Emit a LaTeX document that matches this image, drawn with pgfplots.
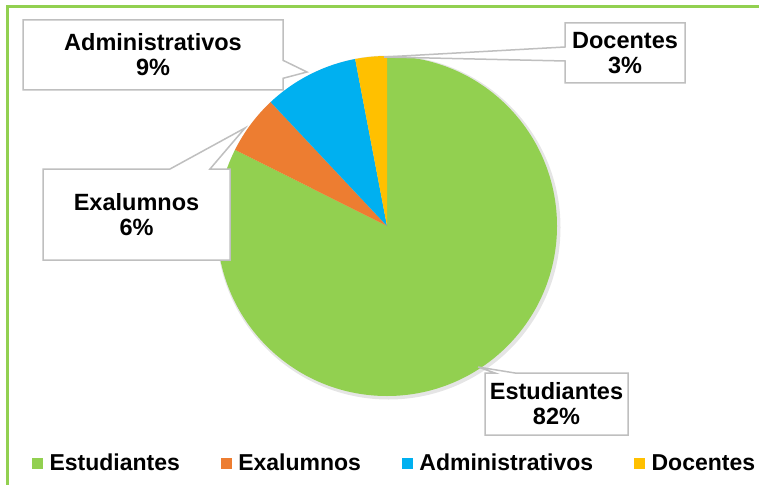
\documentclass[border=0pt]{standalone}
\usepackage{pgfplots}
\pgfplotsset{compat=1.18}
\usepackage{pgfplotstable}
\usetikzlibrary{shapes.callouts}
\usepackage{fontspec}
\setmainfont{Liberation Sans}
\definecolor{slice0}{HTML}{92D050}
\definecolor{slice1}{HTML}{ED7D31}
\definecolor{slice2}{HTML}{00B0F0}
\definecolor{slice3}{HTML}{FFC000}
\definecolor{frame}{HTML}{92D050}
\definecolor{cbord}{HTML}{BFBFBF}

\pgfplotstableread{
name value
Estudiantes 82.4
Exalumnos 5.6
Administrativos 9.0
Docentes 3.0
}\piedata

\tikzset{lbl/.style={rectangle callout, draw=cbord, line width=1.5bp, fill=white,
  align=center, inner sep=0pt, font=\bfseries\fontsize{23.5bp}{25bp}\selectfont}}

\begin{document}
\begin{tikzpicture}
\begin{axis}[
  width=759bp, height=485bp, scale only axis,
  xmin=0, xmax=759, ymin=0, ymax=485, y dir=reverse,
  hide axis, clip=false,
  legend columns=4,
  legend style={draw=none, fill=none, at={(axis cs:29,463)}, anchor=west,
    font=\bfseries\fontsize{23bp}{24bp}\selectfont,
    /tikz/every odd column/.append style={column sep=5bp},
    /tikz/every even column/.append style={column sep=39bp},
    legend cell align=left},
]
% frame
\draw[frame, line width=3bp] (axis cs:7,485) -- (axis cs:7,7) -- (axis cs:759,7);
% soft shadow
\fill[black!10] (axis cs:388.5,227.5) circle[radius=172bp];
% pie
\def\cum{0}
\pgfplotsforeachungrouped \i in {0,...,3}{%
  \pgfplotstablegetelem{\i}{value}\of\piedata
  \let\val\pgfplotsretval
  \pgfmathsetmacro\a{90-\cum*3.6}%
  \pgfmathsetmacro\b{90-(\cum+\val)*3.6}%
  \edef\temp{\noexpand\fill[fill=slice\i] (axis cs:387,226) -- ++(\a:170bp) arc[start angle=\a, end angle=\b, radius=170bp] -- cycle;}%
  \temp
  \pgfmathsetmacro\cum{\cum+\val}%
}
% callouts
\node[lbl, minimum width=260bp, minimum height=70bp, callout pointer width=18bp,
  callout absolute pointer={(axis cs:307,72)}] at (axis cs:153,55) {Administrativos\\9\%};
\node[lbl, minimum width=120bp, minimum height=60bp, callout pointer width=14bp,
  callout absolute pointer={(axis cs:384,57)}] at (axis cs:625,53) {Docentes\\3\%};
\node[lbl, minimum width=187bp, minimum height=91bp, callout pointer width=40bp,
  callout absolute pointer={(axis cs:245,128)}] at (axis cs:136.5,214.5) {Exalumnos\\6\%};
\node[lbl, minimum width=143bp, minimum height=62bp, callout pointer width=20bp,
  callout absolute pointer={(axis cs:478,367)}] at (axis cs:556.5,404) {Estudiantes\\82\%};
% legend
\addlegendimage{legend image code/.code={\fill[slice0] (0bp,-5bp) rectangle (10bp,5bp);}}
\addlegendentry{Estudiantes}
\addlegendimage{legend image code/.code={\fill[slice1] (0bp,-5bp) rectangle (10bp,5bp);}}
\addlegendentry{Exalumnos}
\addlegendimage{legend image code/.code={\fill[slice2] (0bp,-5bp) rectangle (10bp,5bp);}}
\addlegendentry{Administrativos}
\addlegendimage{legend image code/.code={\fill[slice3] (0bp,-5bp) rectangle (10bp,5bp);}}
\addlegendentry{Docentes}
\end{axis}
\pgfresetboundingbox
\path (0,0) rectangle (759bp,485bp);
\end{tikzpicture}
\end{document}
